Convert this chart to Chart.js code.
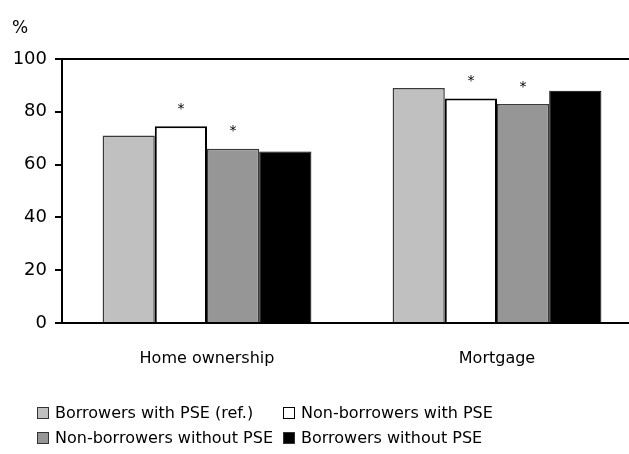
<!DOCTYPE html>
<html>
<head>
<meta charset="utf-8">
<script src="https://cdn.jsdelivr.net/npm/chart.js@4.4.1/dist/chart.umd.min.js"></script>
<style>
  html, body { margin: 0; padding: 0; background: #fff; overflow: hidden; width: 629px; height: 454px; }
  #wrap { position: relative; width: 650px; height: 454px; }
  #c { position: absolute; left: 0; top: 0; }
  .leg { position: absolute; font-family: "DejaVu Sans", sans-serif; font-size: 16px; color: #000; white-space: nowrap; line-height: 18px; }
  .leg .box { position: absolute; left: 0; top: 3px; width: 10px; height: 10px; border: 1px solid #333; box-sizing: content-box; }
  .leg .txt { position: absolute; left: 18px; top: 0; }
</style>
</head>
<body>
<div id="wrap">
  <canvas id="c" width="650" height="454"></canvas>
</div>
<script>
// ---- data ----
const categories = ["Home ownership", "Mortgage"];
const seriesNames = ["Borrowers with PSE (ref.)", "Non-borrowers with PSE", "Non-borrowers without PSE", "Borrowers without PSE"];
const borrowersWithPSE = [71, 89];
const nonBorrowersWithPSE = [74.5, 85];
const nonBorrowersWithoutPSE = [66, 83];
const borrowersWithoutPSE = [65, 88];
// significance markers (*) per series
const sigBorrowersWithPSE = [false, false];
const sigNonBorrowersWithPSE = [true, true];
const sigNonBorrowersWithoutPSE = [true, true];
const sigBorrowersWithoutPSE = [false, false];
const yTicks = [0, 20, 40, 60, 80, 100];
const yUnit = "%";

// ---- styles ----
const fills = ["#c0c0c0", "#ffffff", "#969696", "#000000"];
const borders = ["#3a3a3a", "#000000", "#3a3a3a", "#000000"];
const borderWidths = [1.5, 2, 1.5, 1];
const FONT = '"DejaVu Sans", sans-serif';

const seriesValues = [borrowersWithPSE, nonBorrowersWithPSE, nonBorrowersWithoutPSE, borrowersWithoutPSE];
const seriesSig = [sigBorrowersWithPSE, sigNonBorrowersWithPSE, sigNonBorrowersWithoutPSE, sigBorrowersWithoutPSE];

const datasets = seriesNames.map((name, i) => ({
  label: name,
  data: seriesValues[i],
  backgroundColor: fills[i],
  borderColor: borders[i],
  borderWidth: borderWidths[i],
  borderSkipped: 'bottom',
  categoryPercentage: 0.72,
  barPercentage: 1.0,
  sig: seriesSig[i]
}));

const extras = {
  id: 'extras',
  afterDatasetsDraw(chart) {
    const ctx = chart.ctx;
    ctx.save();
    ctx.fillStyle = '#000';
    ctx.font = '14px ' + FONT;
    ctx.textAlign = 'center';
    ctx.textBaseline = 'middle';
    chart.data.datasets.forEach((ds, i) => {
      const meta = chart.getDatasetMeta(i);
      meta.data.forEach((el, j) => {
        if (ds.sig && ds.sig[j]) ctx.fillText('*', el.x, el.y - 17);
      });
    });
    ctx.font = '17px ' + FONT;
    ctx.textAlign = 'left';
    ctx.fillText(yUnit, 12, 29);
    ctx.restore();
  }
};

new Chart(document.getElementById('c'), {
  type: 'bar',
  data: { labels: categories, datasets },
  options: {
    responsive: false,
    devicePixelRatio: 1,
    animation: false,
    layout: { padding: { top: 59, left: 0, right: 8, bottom: 0 } },
    plugins: { legend: { display: false }, tooltip: { enabled: false } },
    scales: {
      x: {
        grid: { display: true, color: 'rgba(0,0,0,0)', drawTicks: false },
        border: { display: true, color: '#000', width: 2 },
        ticks: { color: '#000', font: { family: FONT, size: 16 }, padding: 26 },
        afterFit(s) { s.height = 131; }
      },
      y: {
        min: 0, max: 100,
        afterBuildTicks(s) { s.ticks = yTicks.map(v => ({ value: v })); },
        grid: {
          color: c => (c.tick && c.tick.value === 100) ? '#000' : 'rgba(0,0,0,0)',
          lineWidth: 2,
          tickColor: '#000',
          tickLength: 7,
          drawTicks: true
        },
        border: { display: true, color: '#000', width: 2 },
        ticks: { color: '#000', font: { family: FONT, size: 18 }, padding: 8 },
        afterFit(s) { s.width = 62; }
      }
    }
  },
  plugins: [extras]
});

// ---- legend (HTML text) ----
const legendPos = [[37, 404], [283, 404], [37, 429], [283, 429]];
const wrap = document.getElementById('wrap');
seriesNames.forEach((name, i) => {
  const d = document.createElement('div');
  d.className = 'leg';
  d.style.left = legendPos[i][0] + 'px';
  d.style.top = legendPos[i][1] + 'px';
  const b = document.createElement('span');
  b.className = 'box';
  b.style.background = fills[i];
  b.style.borderColor = i === 1 ? '#000' : '#333';
  const t = document.createElement('span');
  t.className = 'txt';
  t.textContent = name;
  d.appendChild(b); d.appendChild(t);
  wrap.appendChild(d);
});
</script>
</body>
</html>
